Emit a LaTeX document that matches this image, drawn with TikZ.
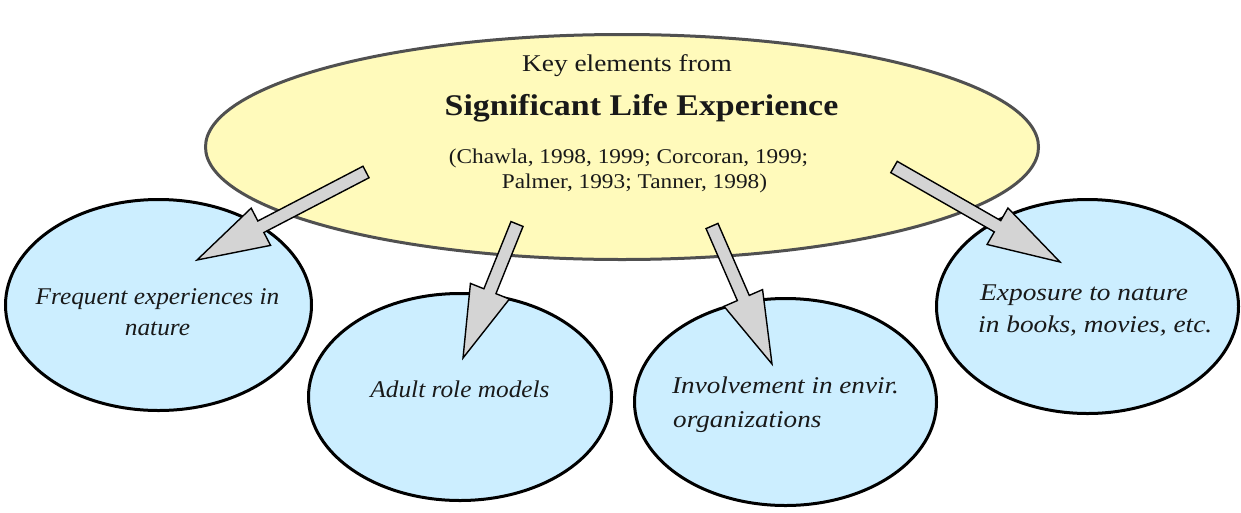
\documentclass[tikz,border=0pt]{standalone}
\usepackage{fontspec}
\setmainfont{Liberation Serif}
\usepackage{graphicx}
\usetikzlibrary{shapes.geometric,calc}
\definecolor{yfill}{RGB}{255,250,187}
\definecolor{ydraw}{RGB}{80,80,80}
\definecolor{bfill}{RGB}{204,238,255}
\definecolor{agray}{RGB}{212,212,212}
\definecolor{txt}{RGB}{25,25,25}
\newcommand\hs[2]{\scalebox{#1}[1]{#2}}
\newcommand\blockarrow[2]{%
  \coordinate (hb) at ($(#2)!72pt!(#1)$);
  \draw[barrow] ($(#1)!6.5pt!90:(#2)$) -- ($(hb)!6.5pt!90:(#2)$) -- ($(hb)!21pt!90:(#2)$) -- (#2) -- ($(hb)!21pt!-90:(#2)$) -- ($(hb)!6.5pt!-90:(#2)$) -- ($(#1)!6.5pt!-90:(#2)$) -- cycle;}
\begin{document}
\begin{tikzpicture}[x=1pt,y=-1pt,
  yell/.style={ellipse, draw=ydraw, fill=yfill, line width=3pt, inner sep=0pt},
  bell/.style={ellipse, draw=black, fill=bfill, line width=3pt, inner sep=0pt},
  barrow/.style={fill=agray, draw=black, line width=1.4pt, line join=miter},
  tx/.style={text=txt, inner sep=0pt, anchor=base},
  itx/.style={tx, font=\fontsize{24}{28}\selectfont\itshape}]
\useasboundingbox (0,0) rectangle (1241,512);
\node[yell, minimum width=833pt, minimum height=225pt] (top) at (622,147) {};
\node[bell, minimum width=306pt, minimum height=211pt] (b1) at (158.5,305) {};
\node[bell, minimum width=303pt, minimum height=207pt] (b2) at (460,397) {};
\node[bell, minimum width=302pt, minimum height=207pt] (b3) at (785.5,402) {};
\node[bell, minimum width=302pt, minimum height=214pt] (b4) at (1087.5,306.5) {};
% top texts
\node[tx, font=\fontsize{24}{28}\selectfont] (k1) at (627,71) {\hs{1.14}{Key elements from}};
\node[tx, font=\fontsize{30}{34}\selectfont\bfseries] (k2) at (641.5,115) {\hs{1.13}{Significant Life Experience}};
\node[tx, font=\fontsize{21}{25}\selectfont] (k3) at (628.5,163) {\hs{1.11}{(Chawla, 1998, 1999; Corcoran, 1999;}};
\node[tx, font=\fontsize{21}{25}\selectfont] (k4) at (634.5,188) {\hs{1.11}{Palmer, 1993; Tanner, 1998)}};
% bubble texts
\node[itx] (f1) at (157.5,304) {\hs{1.055}{Frequent experiences in}};
\node[itx] (f2) at (157.5,335) {\hs{1.055}{nature}};
\node[itx] (a1) at (460,397) {\hs{1.055}{Adult role models}};
\node[itx, anchor=base west] (i1) at (672,393) {\hs{1.13}{Involvement in envir.}};
\node[itx, anchor=base west] (i2) at (673,427) {\hs{1.13}{organizations}};
\node[itx, anchor=base west] (x1) at (980,300) {\hs{1.14}{Exposure to nature}};
\node[itx, anchor=base west] (x2) at (978,332) {\hs{1.14}{in books, movies, etc.}};
% arrows
\coordinate (ta) at (366,172); \coordinate (ha) at (197,260);
\coordinate (tb) at (517,224); \coordinate (hbb) at (463,358);
\coordinate (tc) at (712,226); \coordinate (hc) at (772,364);
\coordinate (td) at (894,167); \coordinate (hd) at (1060,262);
\blockarrow{ta}{ha}
\blockarrow{tb}{hbb}
\blockarrow{tc}{hc}
\blockarrow{td}{hd}
\end{tikzpicture}
\end{document}
